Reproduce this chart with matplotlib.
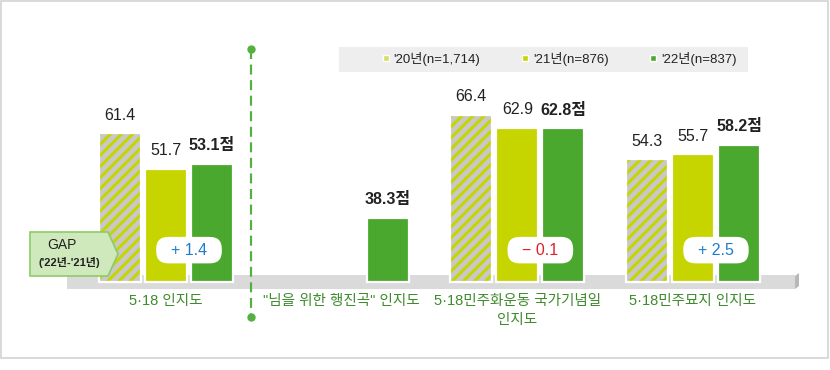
import matplotlib
matplotlib.use('Agg')
import matplotlib.pyplot as plt
from matplotlib.patches import Polygon, Rectangle
from matplotlib.lines import Line2D
from matplotlib.transforms import Affine2D

plt.rcParams['font.family'] = ['Liberation Sans', 'Noto Sans CJK KR', 'DejaVu Sans']
plt.rcParams['hatch.linewidth'] = 2.2

# ---------------- data ----------------
categories = ['5·18 인지도', '"님을 위한 행진곡" 인지도',
              '5·18민주화운동 국가기념일\n인지도', '5·18민주묘지 인지도']
series_names = ["'20년(n=1,714)", "'21년(n=876)", "'22년(n=837)"]
v20 = [61.4, None, 66.4, 54.3]
v21 = [51.7, None, 62.9, 55.7]
v22 = [53.1, 38.3, 62.8, 58.2]
series = [v20, v21, v22]

# ---------------- style ----------------
GRAY = '#c8c8c8'
YEL = '#c6d500'
GRN = '#4aa82e'
LBL_GRN = '#3d8b2d'
BASE = 20.83          # axis floor value (bars start here)
W = 0.238
STEP = 0.262
offsets = [-STEP, 0, STEP]

fig = plt.figure(figsize=(8.3, 3.7), dpi=100)
ax = fig.add_axes([0, 0, 1, 1])
ax.set_xlim(-0.945, 3.780)
ax.set_ylim(-3.18, 97.78)
ax.axis('off')

# pixel transform (origin top-left) for decorations
PX = Affine2D().scale(1 / 830, -1 / 370).translate(0, 1) + fig.transFigure

# frame
fig.patches.append(Rectangle((1, 0.5), 827, 357.5, transform=PX, fill=False,
                             edgecolor='#d3d3d3', linewidth=1.2))
# baseline band
ax.add_patch(Rectangle((67, 275), 728, 14, transform=PX, facecolor='#dadada',
                       edgecolor='none', zorder=1))
ax.add_patch(Polygon([(795, 276), (799, 273), (799, 286), (795, 289)], transform=PX,
                     facecolor='#b8b8b8', edgecolor='none', zorder=1))

# bars
for s, vals in enumerate(series):
    for i, v in enumerate(vals):
        if v is None:
            continue
        x = i + offsets[s]
        if s == 0:
            ax.bar(x, v - BASE, bottom=BASE, width=W, color=GRAY, edgecolor=YEL,
                   hatch='///', linewidth=0, zorder=2)
        else:
            ax.bar(x, v - BASE, bottom=BASE, width=W, color=[YEL, GRN][s - 1],
                   linewidth=0, zorder=2)
        ax.bar(x, v - BASE, bottom=BASE, width=W, fill=False, edgecolor='white',
               linewidth=1.6, zorder=3)
        txt = f'{v:.1f}' + ('점' if s == 2 else '')
        ax.annotate(txt, (x, v), xytext=(0, 13), textcoords='offset points',
                    ha='center', va='center', fontsize=11.5,
                    fontweight='bold' if s == 2 else 'normal', color='#222222', zorder=4)

# gap pills
for i in range(len(categories)):
    if v20[i] is None or v21[i] is None:
        continue
    g = round(v22[i] - v21[i], 1)
    sign = '+' if g >= 0 else '−'
    col = '#1f7ccc' if g >= 0 else '#e0202a'
    ax.text(i + STEP / 2, BASE + 8.7, f'  {sign} {abs(g):.1f}  ', ha='center', va='center',
            fontsize=11.5, color=col, zorder=5,
            bbox=dict(boxstyle='round,pad=0.36,rounding_size=0.75', facecolor='white',
                      edgecolor='none'))

# category labels
for i, c in enumerate(categories):
    ax.text(i, BASE - 3.3, c, ha='center', va='top', fontsize=10.5, color=LBL_GRN,
            linespacing=1.45, zorder=4)

# GAP box
fig.patches.append(Polygon([(30, 232), (108, 232), (118, 254), (108, 276), (30, 276)],
                           transform=PX, facecolor='#cfe9bd', edgecolor='#8ccb6a',
                           linewidth=1.2, zorder=6))
fig.text(62, 245, 'GAP', transform=PX, ha='center', va='center', fontsize=10,
         color='#222222', zorder=7)
fig.text(69, 263, "('22년-'21년)", transform=PX, ha='center', va='center', fontsize=8,
         fontweight='bold', color='#222222', zorder=7)

# dashed divider
ax.add_line(Line2D([251, 251], [49, 317], transform=PX, color='#55b040', linewidth=1.6,
                   dashes=(4.5, 2.5), zorder=4))
ax.add_line(Line2D([251, 251], [49, 317], transform=PX, linestyle='none', marker='o',
                   markersize=5, color='#55b040', zorder=4))

# legend
ax.add_patch(Rectangle((339, 47), 409, 25, transform=PX, facecolor='#eeeeee',
                       edgecolor='none', zorder=1))
leg_cols = ['#d6dc66', YEL, GRN]
handles = [Line2D([], [], linestyle='none', marker='s', markersize=4.5,
                  markerfacecolor=c, markeredgecolor='white', markeredgewidth=1)
           for c in leg_cols]
fig.legend(handles, series_names, ncol=3, loc='center left',
           bbox_to_anchor=(375 / 830, 1 - 59 / 370), frameon=False, fontsize=9.5,
           handlelength=0.6, handletextpad=0.3, columnspacing=3.1, borderpad=0,
           labelcolor='#222222')

fig.savefig('out.png', dpi=100)
